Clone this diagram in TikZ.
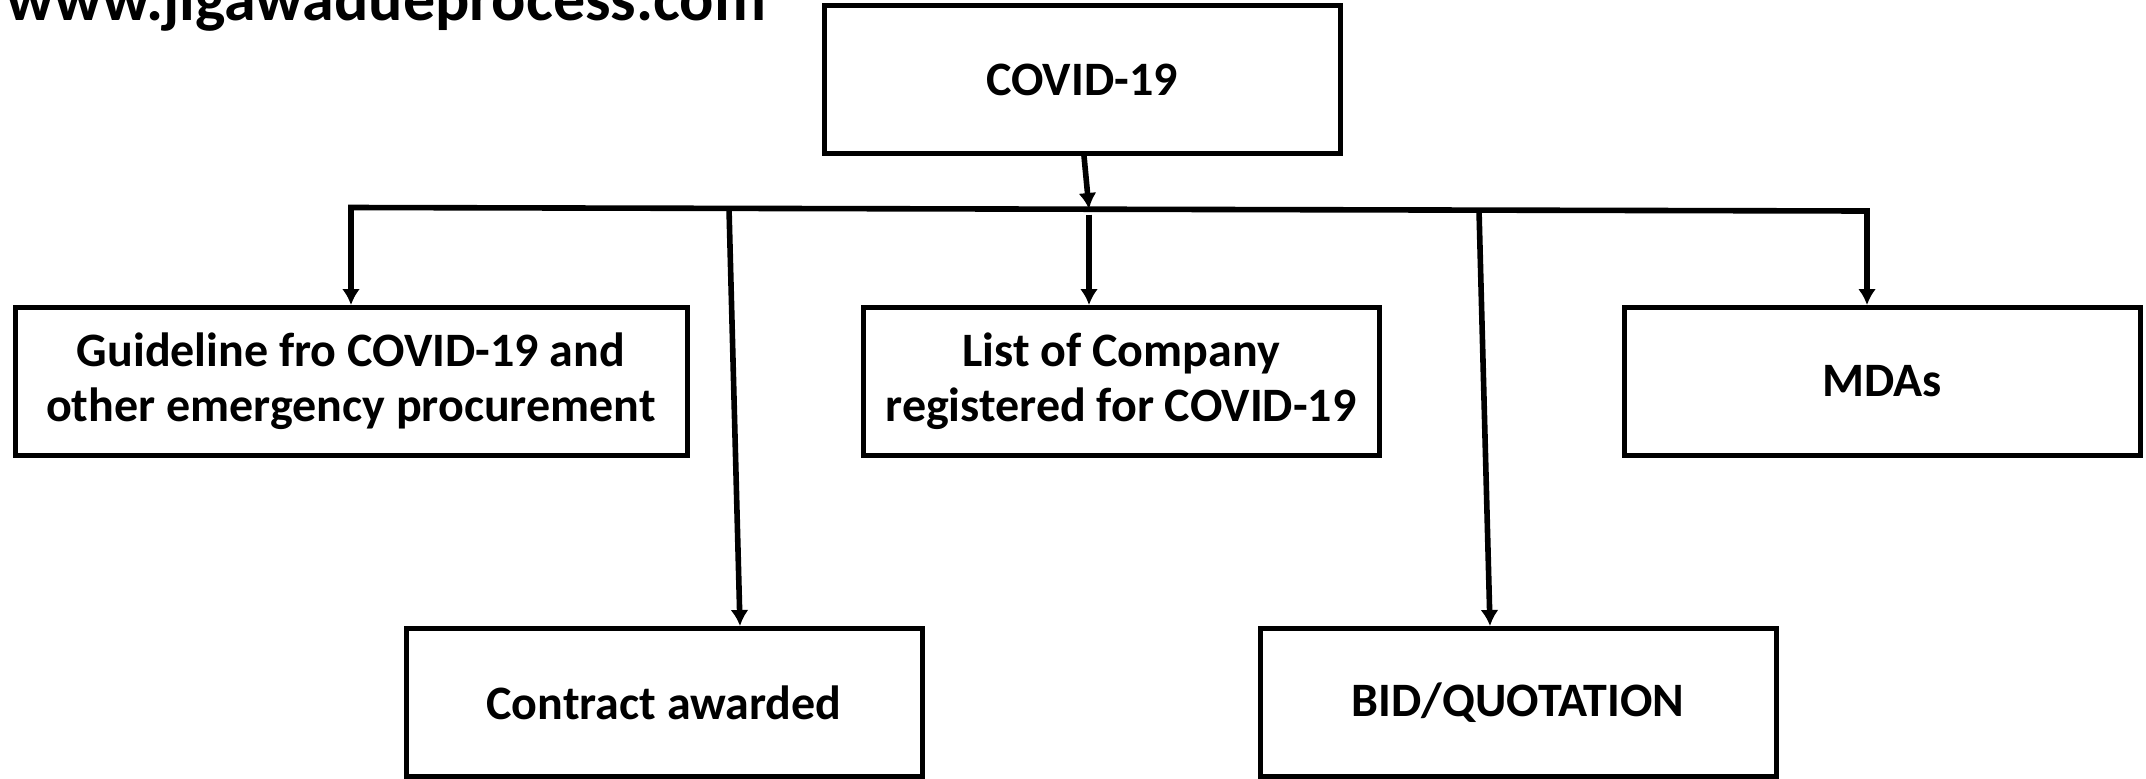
\documentclass[tikz,border=0pt]{standalone}
\usepackage{fontspec}
\setmainfont{Carlito}
\usetikzlibrary{arrows.meta}
\tikzset{>={Latex[length=8pt,width=9pt]}}
\tikzset{box/.style = {draw, line width=2.5pt, minimum width=258pt, minimum height=74pt,
                       align=center, font=\bfseries\fontsize{24}{27.5}\selectfont},
         link/.style = {line width=2.8pt}}

\begin{document}
\begin{tikzpicture}[x=0.5pt, y=-0.5pt]
    \useasboundingbox (0, 0) rectangle (2146, 778);

    \node [anchor=base west, inner sep=0pt, font=\bfseries\fontsize{32}{38}\selectfont] (site) at (6, 20) {www.jigawadueprocess.com};

    \node [box] (covid) at (1082, 79.5) {COVID-19};
    \node [box, minimum width=336pt] (guide) at (351, 381.5) {Guideline fro COVID-19 and\\other emergency procurement};
    \node [box] (list) at (1121, 381.5) {List of Company\\registered for COVID-19};
    \node [box] (mdas) at (1882, 381.5) {MDAs};
    \node [box] (award) at (664, 702.5) {Contract awarded};
    \node [box] (bid) at (1518, 702.5) {BID/QUOTATION};

    % the bus under COVID-19
    \coordinate (busL) at (351, 207.5);
    \coordinate (busR) at (1867, 211);
    \coordinate (bCovid) at (1089, 209);
    \coordinate (bAward) at (729, 208.4);
    \coordinate (bList) at (1089, 209.5);
    \coordinate (bBid) at (1479, 210.1);

    \draw [link, ->] ([xshift=1pt]covid.south) -- (bCovid);
    \draw [link, <->] (guide.north) -- (busL) -- (busR) -- (busR |- mdas.north);
    \draw [link, ->] ([yshift=-2.5pt]bList) -- (bList |- list.north);
    \draw [link, ->] (bAward) -- ([xshift=38pt]award.north);
    \draw [link, ->] (bBid) -- ([xshift=-14pt]bid.north);
\end{tikzpicture}
\end{document}
